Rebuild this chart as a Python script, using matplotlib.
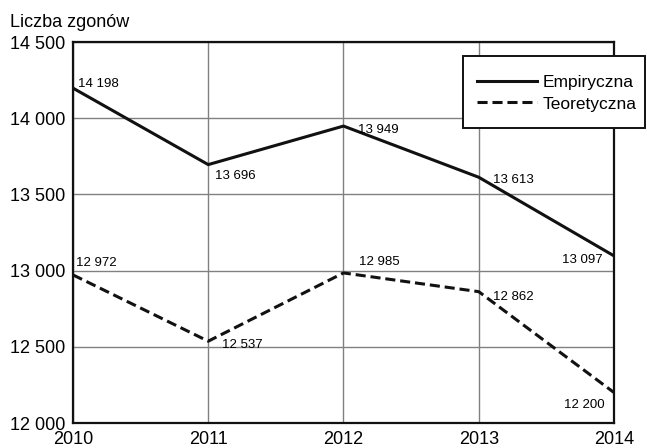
import matplotlib.pyplot as plt
from matplotlib.patches import Rectangle

# dane
years = [2010, 2011, 2012, 2013, 2014]
empiryczna = [14198, 13696, 13949, 13613, 13097]
teoretyczna = [12972, 12537, 12985, 12862, 12200]
y_ticks = [12000, 12500, 13000, 13500, 14000, 14500]

plt.rcParams['font.family'] = ['Liberation Sans', 'DejaVu Sans']


def fmt(v):
    return '{:,}'.format(v).replace(',', ' ')


fig = plt.figure(figsize=(6.47, 4.48), dpi=100)
ax = fig.add_axes([0.1128, 0.0558, 0.8362, 0.8502])

ax.plot(years, empiryczna, c='#111111', linewidth=2.2, label='Empiryczna')
ax.plot(years, teoretyczna, '--', c='#111111', linewidth=2.2, dashes=(3.3, 1.6),
        label='Teoretyczna')

ax.set_xlim(2010, 2014)
ax.set_ylim(12000, 14500)
ax.set_xticks(years)
ax.set_yticks(y_ticks)
ax.set_yticklabels([fmt(v) for v in y_ticks])
ax.tick_params(length=0, labelsize=13)
ax.tick_params(axis='y', pad=5.8)
ax.tick_params(axis='x', pad=6)
ax.grid(True, color='#808080', linewidth=1)
for s in ax.spines.values():
    s.set_linewidth(1.6)
    s.set_color('#111111')

# etykiety punktow (przesuniecia w punktach, do linii bazowej)
off_emp = [(3.6, 0.7, 'left'), (5, -10.4, 'left'), (10.4, -5, 'left'),
           (10, -4.3, 'left'), (-8, -5, 'right')]
off_teo = [(2.2, 6.5, 'left'), (10, -5, 'left'), (11, 5.8, 'left'),
           (10, -5.8, 'left'), (-6.5, -11.2, 'right')]
for vals, offs in [(empiryczna, off_emp), (teoretyczna, off_teo)]:
    for x, v, o in zip(years, vals, offs):
        ax.annotate(fmt(v), (x, v), xytext=(o[0], o[1]), textcoords='offset points',
                    fontsize=9.5, ha=o[2], va='baseline')

# legenda bez ramki + osobna ramka (wychodzi poza os)
leg = ax.legend(loc='upper left', bbox_to_anchor=(477 / 647, 1 - 75 / 448),
                bbox_transform=fig.transFigure, fontsize=12.5, frameon=False,
                handlelength=3.45, handletextpad=0.35, borderpad=0,
                labelspacing=0.36, borderaxespad=0)
box = Rectangle((463 / 647, 1 - 128 / 448), 182 / 647, 72 / 448,
                transform=fig.transFigure, facecolor='white',
                edgecolor='#111111', linewidth=1.4, zorder=4)
fig.add_artist(box)
leg.set_zorder(5)
fig.add_artist(leg)

fig.text(10 / 647, 1 - 27 / 448, 'Liczba zgonów', fontsize=13, va='baseline')

plt.savefig('out.png', dpi=100)
